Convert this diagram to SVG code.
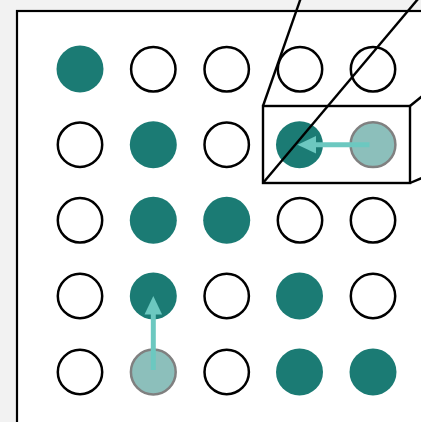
<svg xmlns="http://www.w3.org/2000/svg" width="421" height="422" viewBox="0 0 421 422">
<defs>
<style>
.o{fill:#ffffff;stroke:#000;stroke-width:2.5}
.f{fill:#1b7b74}
.l{fill:#8cbfbb;stroke:#808080;stroke-width:2.5}
.ln{fill:none;stroke:#000;stroke-width:2.4}
.sh{stroke:#6cc8c0;stroke-width:5}
.hd{fill:#6cc8c0}
</style>
</defs>
<rect width="421" height="422" fill="#f2f2f2"/>
<rect x="17" y="11" width="420" height="430" fill="#fff" stroke="#000" stroke-width="2.2"/>
<g id="r1">
<circle id="n11" class="f" cx="80" cy="69" r="23.5"/>
<circle id="n12" class="o" cx="153.3" cy="69.3" r="22.2"/>
<circle id="n13" class="o" cx="226.7" cy="69.3" r="22.2"/>
<circle id="n14" class="o" cx="300" cy="69.3" r="22.2"/>
<circle id="n15" class="o" cx="373" cy="69.3" r="22.2"/>
</g>
<g id="r2">
<circle id="n21" class="o" cx="80" cy="144.7" r="22.2"/>
<circle id="n22" class="f" cx="153.3" cy="144.7" r="23.5"/>
<circle id="n23" class="o" cx="226.7" cy="144.7" r="22.2"/>
<circle id="n24" class="f" cx="299.5" cy="144.7" r="23.5"/>
<circle id="n25" class="l" cx="373" cy="144.7" r="22.4"/>
</g>
<g id="r3">
<circle id="n31" class="o" cx="80" cy="220.3" r="22.2"/>
<circle id="n32" class="f" cx="153.3" cy="220.3" r="23.5"/>
<circle id="n33" class="f" cx="226.7" cy="220.3" r="23.5"/>
<circle id="n34" class="o" cx="300" cy="220.3" r="22.2"/>
<circle id="n35" class="o" cx="373" cy="220.3" r="22.2"/>
</g>
<g id="r4">
<circle id="n41" class="o" cx="80" cy="296" r="22.2"/>
<circle id="n42" class="f" cx="153.3" cy="296" r="23.5"/>
<circle id="n43" class="o" cx="226.7" cy="296" r="22.2"/>
<circle id="n44" class="f" cx="299.5" cy="296" r="23.5"/>
<circle id="n45" class="o" cx="373" cy="296" r="22.2"/>
</g>
<g id="r5">
<circle id="n51" class="o" cx="80" cy="372" r="22.2"/>
<circle id="n52" class="l" cx="153.3" cy="372" r="22.4"/>
<circle id="n53" class="o" cx="226.7" cy="372" r="22.2"/>
<circle id="n54" class="f" cx="299.5" cy="372" r="23.5"/>
<circle id="n55" class="f" cx="373" cy="372" r="23.5"/>
</g>
<g id="box">
<rect class="ln" x="263" y="106" width="147" height="77"/>
<line class="ln" x1="263" y1="106" x2="300.5" y2="-1"/>
<line class="ln" x1="263" y1="183" x2="418" y2="-1"/>
<line class="ln" x1="410" y1="106" x2="422" y2="96.3"/>
<line class="ln" x1="410" y1="183" x2="422" y2="178"/>
</g>
<g id="connectors">
<line class="sh" x1="369.5" y1="144.7" x2="314" y2="144.7"/>
<polygon class="hd" points="297.5,144.7 316,136 316,153.4"/>
<line class="sh" x1="153.3" y1="370" x2="153.3" y2="312"/>
<polygon class="hd" points="153.3,296 144.5,314.5 162.1,314.5"/>
</g>
</svg>
